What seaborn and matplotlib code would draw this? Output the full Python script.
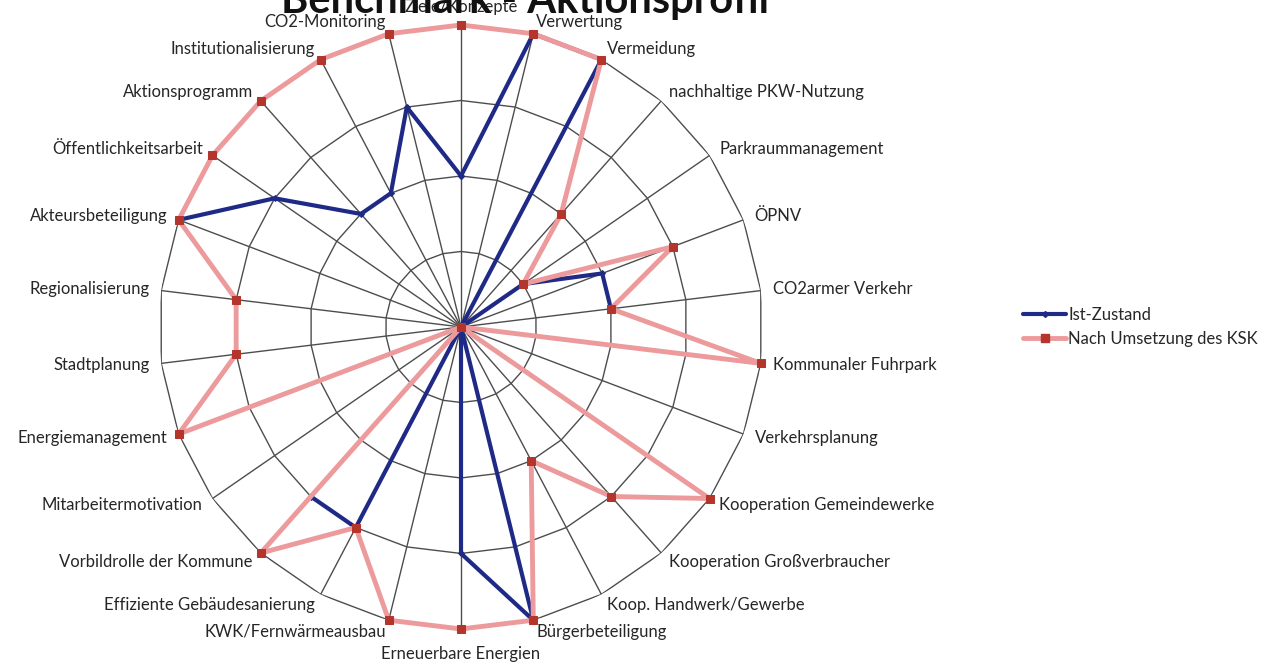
import numpy as np
import pandas as pd
import matplotlib
matplotlib.use('Agg')
import matplotlib.pyplot as plt
from matplotlib.lines import Line2D
import seaborn as sns

# ==================================
# DATA
# ==================================

categories = [
    'Ziele/Konzepte', 'Verwertung', 'Vermeidung', 'nachhaltige PKW-Nutzung',
    'Parkraummanagement', 'ÖPNV', 'CO2armer Verkehr', 'Kommunaler Fuhrpark',
    'Verkehrsplanung', 'Kooperation Gemeindewerke', 'Kooperation Großverbraucher',
    'Koop. Handwerk/Gewerbe', 'Bürgerbeteiligung', 'Erneuerbare Energien',
    'KWK/Fernwärmeausbau', 'Effiziente Gebäudesanierung', 'Vorbildrolle der Kommune',
    'Mitarbeitermotivation', 'Energiemanagement', 'Stadtplanung', 'Regionalisierung',
    'Akteursbeteiligung', 'Öffentlichkeitsarbeit', 'Aktionsprogramm',
    'Institutionalisierung', 'CO2-Monitoring'
]

nan = np.nan
ist_zustand = [2, 4, 4, 0, 1, 2, 2, nan, nan, nan, nan, 0, 4,
               3, 0, 3, 3, nan, nan, nan, nan, 4, 3, 2, 2, 3]
nach_ksk = [4, 4, 4, 2, 1, 3, 2, 4, 0, 4, 3, 2, 4,
            4, 4, 3, 4, 0, 4, 3, 3, 4, 4, 4, 4, 4]

ring_levels = [1, 2, 3, 4]
series_names = ['Ist-Zustand', 'Nach Umsetzung des KSK']

# ==================================
# STYLE
# ==================================

sns.set_theme(style='white')
plt.rcParams['font.family'] = ['Lato', 'DejaVu Sans']

blue = '#1f2a86'
pink = '#ec9a9c'
dark_red = '#b3352b'
grid_col = '#4d4d4d'

n = len(categories)
theta = np.linspace(0, 2 * np.pi, n, endpoint=False)
closed_theta = np.append(theta, theta[0])

fig = plt.figure(figsize=(12.66, 6.66), dpi=100)
ax = fig.add_axes([0.1256, 0.0556, 0.4771, 0.9069], projection='polar')
ax.set_theta_zero_location('N')
ax.set_theta_direction(-1)
ax.grid(False)
ax.spines['polar'].set_visible(False)

# polygon grid + spokes
for lvl in ring_levels:
    ax.plot(closed_theta, [lvl] * (n + 1), color=grid_col, lw=1, zorder=1)
for t in theta:
    ax.plot([t, t], [0, ring_levels[-1]], color=grid_col, lw=1, zorder=1)

# ==================================
# SERIES
# ==================================

blue_vals = np.append(ist_zustand, ist_zustand[0])
blue_df = pd.DataFrame({
    'theta': closed_theta,
    'r': blue_vals,
    'seg': np.cumsum(np.isnan(blue_vals))
}).dropna()

sns.lineplot(
    data=blue_df, x='theta', y='r', units='seg',
    estimator=None, sort=False, color=blue, lw=3,
    marker='D', markersize=3, markeredgecolor=blue,
    clip_on=False, ax=ax, zorder=2
)

red_df = pd.DataFrame({
    'theta': closed_theta,
    'r': np.append(nach_ksk, nach_ksk[0])
})

sns.lineplot(
    data=red_df, x='theta', y='r',
    estimator=None, sort=False, color=pink, lw=3.5,
    marker='s', markersize=5.5,
    markerfacecolor=dark_red, markeredgecolor=dark_red,
    clip_on=False, ax=ax, zorder=3
)

ax.set_ylim(0, ring_levels[-1])
ax.set_xticks([])
ax.set_yticks([])
ax.set_xlabel('')
ax.set_ylabel('')

# category labels
for t, lab in zip(theta, categories):
    s, c = np.sin(t), np.cos(t)
    ha = 'left' if s > 0.05 else 'right' if s < -0.05 else 'center'
    if c > 0.99:
        off = 18
    elif c < -0.99:
        off = 25
    else:
        off = 12
    ax.annotate(
        lab, xy=(t, ring_levels[-1]),
        xytext=(off * s, off * c), textcoords='offset pixels',
        ha=ha, va='center', fontsize=12, color='#262626',
        annotation_clip=False
    )

# title
fig.text(
    0.415, 1 - 13 / 666, 'Benchmark - Aktionsprofil',
    ha='center', va='baseline', fontsize=30,
    fontweight='bold', color='#111111', zorder=10
)

# legend
handles = [
    Line2D([], [], color=blue, lw=3, marker='D', markersize=3),
    Line2D([], [], color=pink, lw=3.5, marker='s', markersize=5.5,
           markerfacecolor=dark_red, markeredgecolor=dark_red),
]
fig.legend(
    handles, series_names,
    loc='center left', bbox_to_anchor=(1008 / 1266, 1 - 327 / 666),
    frameon=False, fontsize=12, handlelength=2.6,
    handletextpad=0.1, labelspacing=0.45
)

fig.savefig('out.png', dpi=100)
